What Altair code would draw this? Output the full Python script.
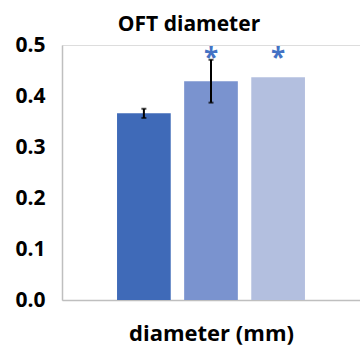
import altair as alt
import pandas as pd

title_text = "OFT diameter"
groups = ["G1", "G2", "G3"]
means = [0.366, 0.429, 0.437]
errors = [0.009, 0.042, 0.0]
sig = ["", "*", "*"]
colors = ["#3F6AB8", "#7A93CF", "#B3BFDF"]

df = pd.DataFrame({"group": groups, "mean": means, "err": errors, "sig": sig})
df["lo"] = df["mean"] - df["err"]
df["hi"] = df["mean"] + df["err"]

FONT = "Open Sans"

x = alt.X("group:N", sort=groups,
          scale=alt.Scale(paddingInner=0.2, paddingOuter=0.82),
          axis=alt.Axis(title="diameter (mm)", labels=False, ticks=False,
                        titleFont=FONT, titleFontSize=22, titleFontWeight="bold",
                        titleColor="#000000", titleBaseline="alphabetic", titlePadding=40,
                        domainColor="#BFBFBF", domainWidth=1.5))
y = alt.Y("mean:Q", scale=alt.Scale(domain=[0, 0.5], nice=False),
          axis=alt.Axis(title=None, values=[0, 0.1, 0.2, 0.3, 0.4, 0.5], format=".1f",
                        ticks=False, grid=False, labelPadding=17,
                        labelFont=FONT, labelFontSize=21, labelFontWeight="bold",
                        labelColor="#000000", domainColor="#BFBFBF", domainWidth=1.5))

base = alt.Chart(df)

bars = base.mark_bar().encode(
    x=x, y=y,
    color=alt.Color("group:N", scale=alt.Scale(domain=groups, range=colors), legend=None),
)

eb = base.transform_filter("datum.err > 0")
rule = eb.mark_rule(color="black", strokeWidth=2).encode(
    x=alt.X("group:N", sort=groups), y="lo:Q", y2="hi:Q")
cap_hi = eb.mark_tick(color="black", thickness=2, size=5).encode(
    x=alt.X("group:N", sort=groups), y="hi:Q")
cap_lo = eb.mark_tick(color="black", thickness=2, size=5).encode(
    x=alt.X("group:N", sort=groups), y="lo:Q")

stars = base.mark_text(color="#4472C4", font=FONT, fontSize=26, fontWeight="bold",
                       baseline="alphabetic", dy=14).encode(
    x=alt.X("group:N", sort=groups), y=alt.datum(0.485), text="sig:N")

title = alt.Chart(pd.DataFrame({"t": [title_text]})).mark_text(
    font=FONT, fontSize=21, fontWeight="bold", color="#000000",
    align="center", baseline="alphabetic").encode(
    x=alt.value(127), y=alt.value(-14), text="t:N")

chart = alt.layer(bars, rule, cap_hi, cap_lo, stars, title).properties(
    width=298, height=255,
    autosize=alt.AutoSizeParams(type="none"),
    padding={"left": 62, "right": 0, "top": 45, "bottom": 51},
).configure_view(stroke=None).configure(background="white")

chart.save("out.html", embed_options={"renderer": "svg", "actions": False})
